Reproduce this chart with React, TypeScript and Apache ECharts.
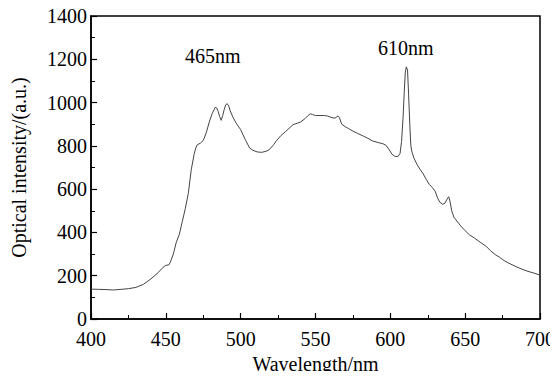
import React, { useEffect, useRef } from "react";
import * as echarts from "echarts";

const wavelengths = [400,405,410,415,420,425,430,435,440,445,448,450,452,453,455,457,459,461,463,465,467,469,470,471,473,475,477,479,481,483,484,485,486,487,488,489,490,491,492,493,495,497,500,503,506,508,511,514,517,519,522,524,527,530,533,535,538,540,543,545,546.5,548,550,553,556,558,561,563,565,566,567.5,570,572,575,578,582,585,588,592,595,597,599,601,603,605,606.5,607.5,608.5,609.3,610,610.7,611.5,612.2,613,613.7,614.5,616,618,620,622,624,626,628,630,631.5,633,635,636.5,638,639,640,641,642.5,645,647,650,653,656,660,664,667,670,673,676,680,684,688,692,696,700];
const intensity = [138,137,136,134,137,140,146,160,185,215,238,248,250,262,300,355,390,450,510,580,690,765,790,805,812,825,860,910,950,978,975,958,935,918,940,968,990,995,985,962,930,905,875,830,790,780,772,770,775,782,805,825,848,866,885,898,905,910,926,940,948,945,940,940,940,938,930,928,938,930,900,888,880,868,858,845,835,823,815,810,803,785,762,752,750,765,820,930,1050,1140,1165,1150,1040,900,800,770,740,712,690,670,645,622,608,590,560,540,530,535,555,565,540,500,470,448,430,408,388,375,355,336,315,298,285,270,255,242,230,220,212,203];

const peakLabels = ["465nm", "610nm"];

export default function App() {
  const ref = useRef<HTMLDivElement>(null);
  useEffect(() => {
    if (!ref.current) return;
    const chart = echarts.init(ref.current, undefined, { renderer: "svg" });
    const font = "Liberation Serif";
    chart.setOption({
      animation: false,
      backgroundColor: "#ffffff",
      textStyle: { fontFamily: font },
      grid: { left: 91, right: 15, top: 16, bottom: 60, show: true, borderColor: "#000", borderWidth: 1.5, backgroundColor: "transparent" },
      xAxis: {
        type: "value",
        min: 400,
        max: 700,
        interval: 50,
        name: "Wavelength/nm",
        nameLocation: "middle",
        nameGap: 35,
        nameTextStyle: { fontFamily: font, fontSize: 20, color: "#000" },
        axisLine: { show: true, lineStyle: { color: "#000", width: 1.5 } },
        axisTick: { show: true, inside: true, length: 6, lineStyle: { color: "#000", width: 1.2 } },
        minorTick: { show: true, splitNumber: 2, length: 4, lineStyle: { color: "#000", width: 1 } },
        axisLabel: { fontFamily: font, fontSize: 20, color: "#000", margin: 10, formatter: (v: number) => String(v) },
        splitLine: { show: false },
      },
      yAxis: {
        type: "value",
        min: 0,
        max: 1400,
        interval: 200,
        name: "Optical intensity/(a.u.)",
        nameLocation: "middle",
        nameGap: 62,
        nameTextStyle: { fontFamily: font, fontSize: 20, color: "#000" },
        axisLine: { show: true, lineStyle: { color: "#000", width: 1.5 } },
        axisTick: { show: true, inside: true, length: 6, lineStyle: { color: "#000", width: 1.2 } },
        minorTick: { show: true, splitNumber: 2, length: 4, lineStyle: { color: "#000", width: 1 } },
        axisLabel: { fontFamily: font, fontSize: 20, color: "#000", margin: 4, formatter: (v: number) => String(v) },
        splitLine: { show: false },
      },
      graphic: [
        { type: "text", left: 185, top: 46, style: { text: peakLabels[0], fontFamily: font, fontSize: 20, fill: "#000" } },
        { type: "text", left: 378, top: 38, style: { text: peakLabels[1], fontFamily: font, fontSize: 20, fill: "#000" } },
      ],
      series: [
        {
          type: "line",
          data: wavelengths.map((w, i) => [w, intensity[i]]),
          showSymbol: false,
          smooth: false,
          lineStyle: { color: "#444", width: 1 },
        },
      ],
    });
    return () => chart.dispose();
  }, []);
  return <div ref={ref} style={{ width: 558, height: 379, margin: -8 }} />;
}
